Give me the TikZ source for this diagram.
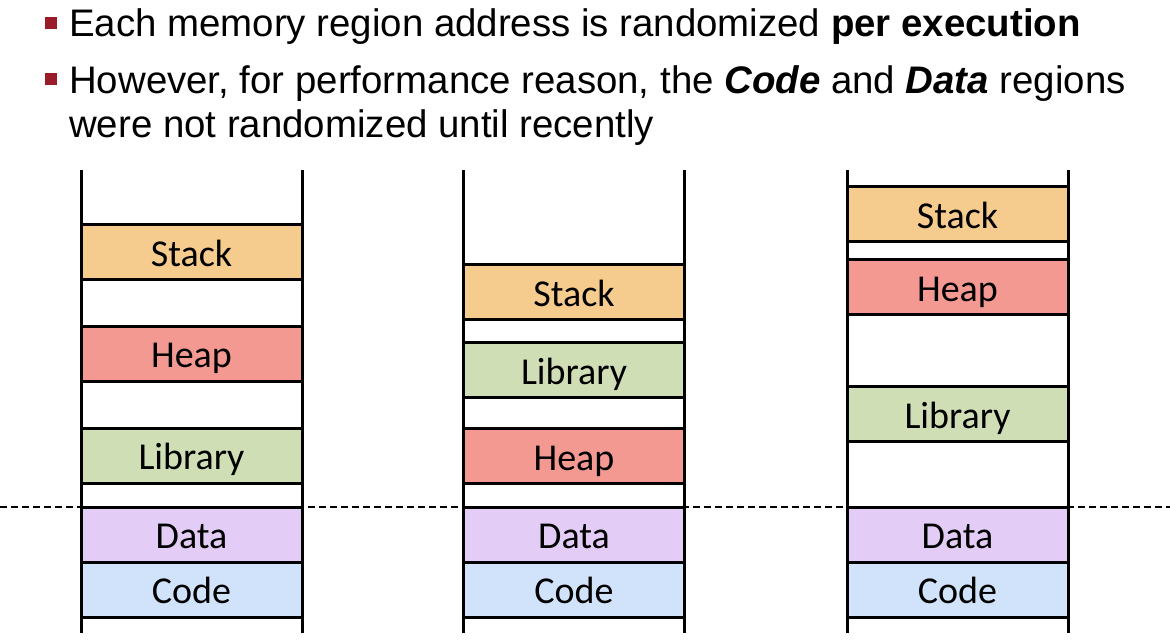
\documentclass[tikz,border=0pt]{standalone}
\usepackage{fontspec}
\setmainfont{Liberation Sans}
\newfontfamily\segfont{Carlito}
\usepackage{tikz}
\usetikzlibrary{calc}
\definecolor{stackcol}{RGB}{246,204,142}
\definecolor{heapcol}{RGB}{243,153,145}
\definecolor{libcol}{RGB}{208,222,182}
\definecolor{datacol}{RGB}{227,205,247}
\definecolor{codecol}{RGB}{208,227,250}
\definecolor{bulletcol}{RGB}{155,27,40}
\tikzset{
  segbox/.style={draw=black, line width=3pt, minimum width=221pt, minimum height=55pt,
    inner sep=0pt, text height=28pt, text depth=0pt,
    font=\segfont\fontsize{38}{40}\selectfont},
  wall/.style={line width=3pt},
  bullettext/.style={anchor=base west, inner sep=0pt, font=\fontsize{38.4}{44}\selectfont},
  bulletmark/.style={fill=bulletcol, draw=none, minimum size=12pt, inner sep=0pt}
}
\newcommand{\seg}[5]{\node[segbox, fill=#4] (#1) at ( #2 , #3 ) {#5};}
\newcommand{\column}[1]{\draw[wall] ( #1 , 170 ) -- ( #1 , 633 ); \draw[wall] ( #1 + 221 , 170 ) -- ( #1 + 221 , 633 );}
\begin{document}
\begin{tikzpicture}[x=1pt,y=-1pt]
        \useasboundingbox (0,0) rectangle (1170,642);

        % bullets
        \node[bulletmark] (b1) at (51,23) {};
        \node[bullettext] (t1) at (69,37) {Each memory region address is randomized \textbf{per execution}};
        \node[bulletmark] (b2) at (51,79) {};
        \node[bullettext] (t2) at (69,93) {However, for performance reason, the \textbf{\textit{Code}} and \textbf{\textit{Data}} regions};
        \node[bullettext] (t3) at (69,137) {were not randomized until recently};

        % boundary
        \draw[line width=1.6pt, dash pattern=on 7pt off 4pt] (0,507) -- (1170,507);

        % walls
        \column{81}
        \column{463.5}
        \column{847}

        % column 1
        \seg{stackA}{191.5}{252}{stackcol}{Stack}
        \seg{heapA}{191.5}{353.5}{heapcol}{Heap}
        \seg{libA}{191.5}{455.5}{libcol}{Library}
        \seg{dataA}{191.5}{534.5}{datacol}{Data}
        \seg{codeA}{191.5}{589.5}{codecol}{Code}

        % column 2
        \seg{stackB}{574}{292}{stackcol}{Stack}
        \seg{libB}{574}{370}{libcol}{Library}
        \seg{heapB}{574}{456}{heapcol}{Heap}
        \seg{dataB}{574}{534.5}{datacol}{Data}
        \seg{codeB}{574}{589.5}{codecol}{Code}

        % column 3
        \seg{stackC}{957.5}{214}{stackcol}{Stack}
        \seg{heapC}{957.5}{287}{heapcol}{Heap}
        \seg{libC}{957.5}{414}{libcol}{Library}
        \seg{dataC}{957.5}{534.5}{datacol}{Data}
        \seg{codeC}{957.5}{589.5}{codecol}{Code}

    \end{tikzpicture}
\end{document}
